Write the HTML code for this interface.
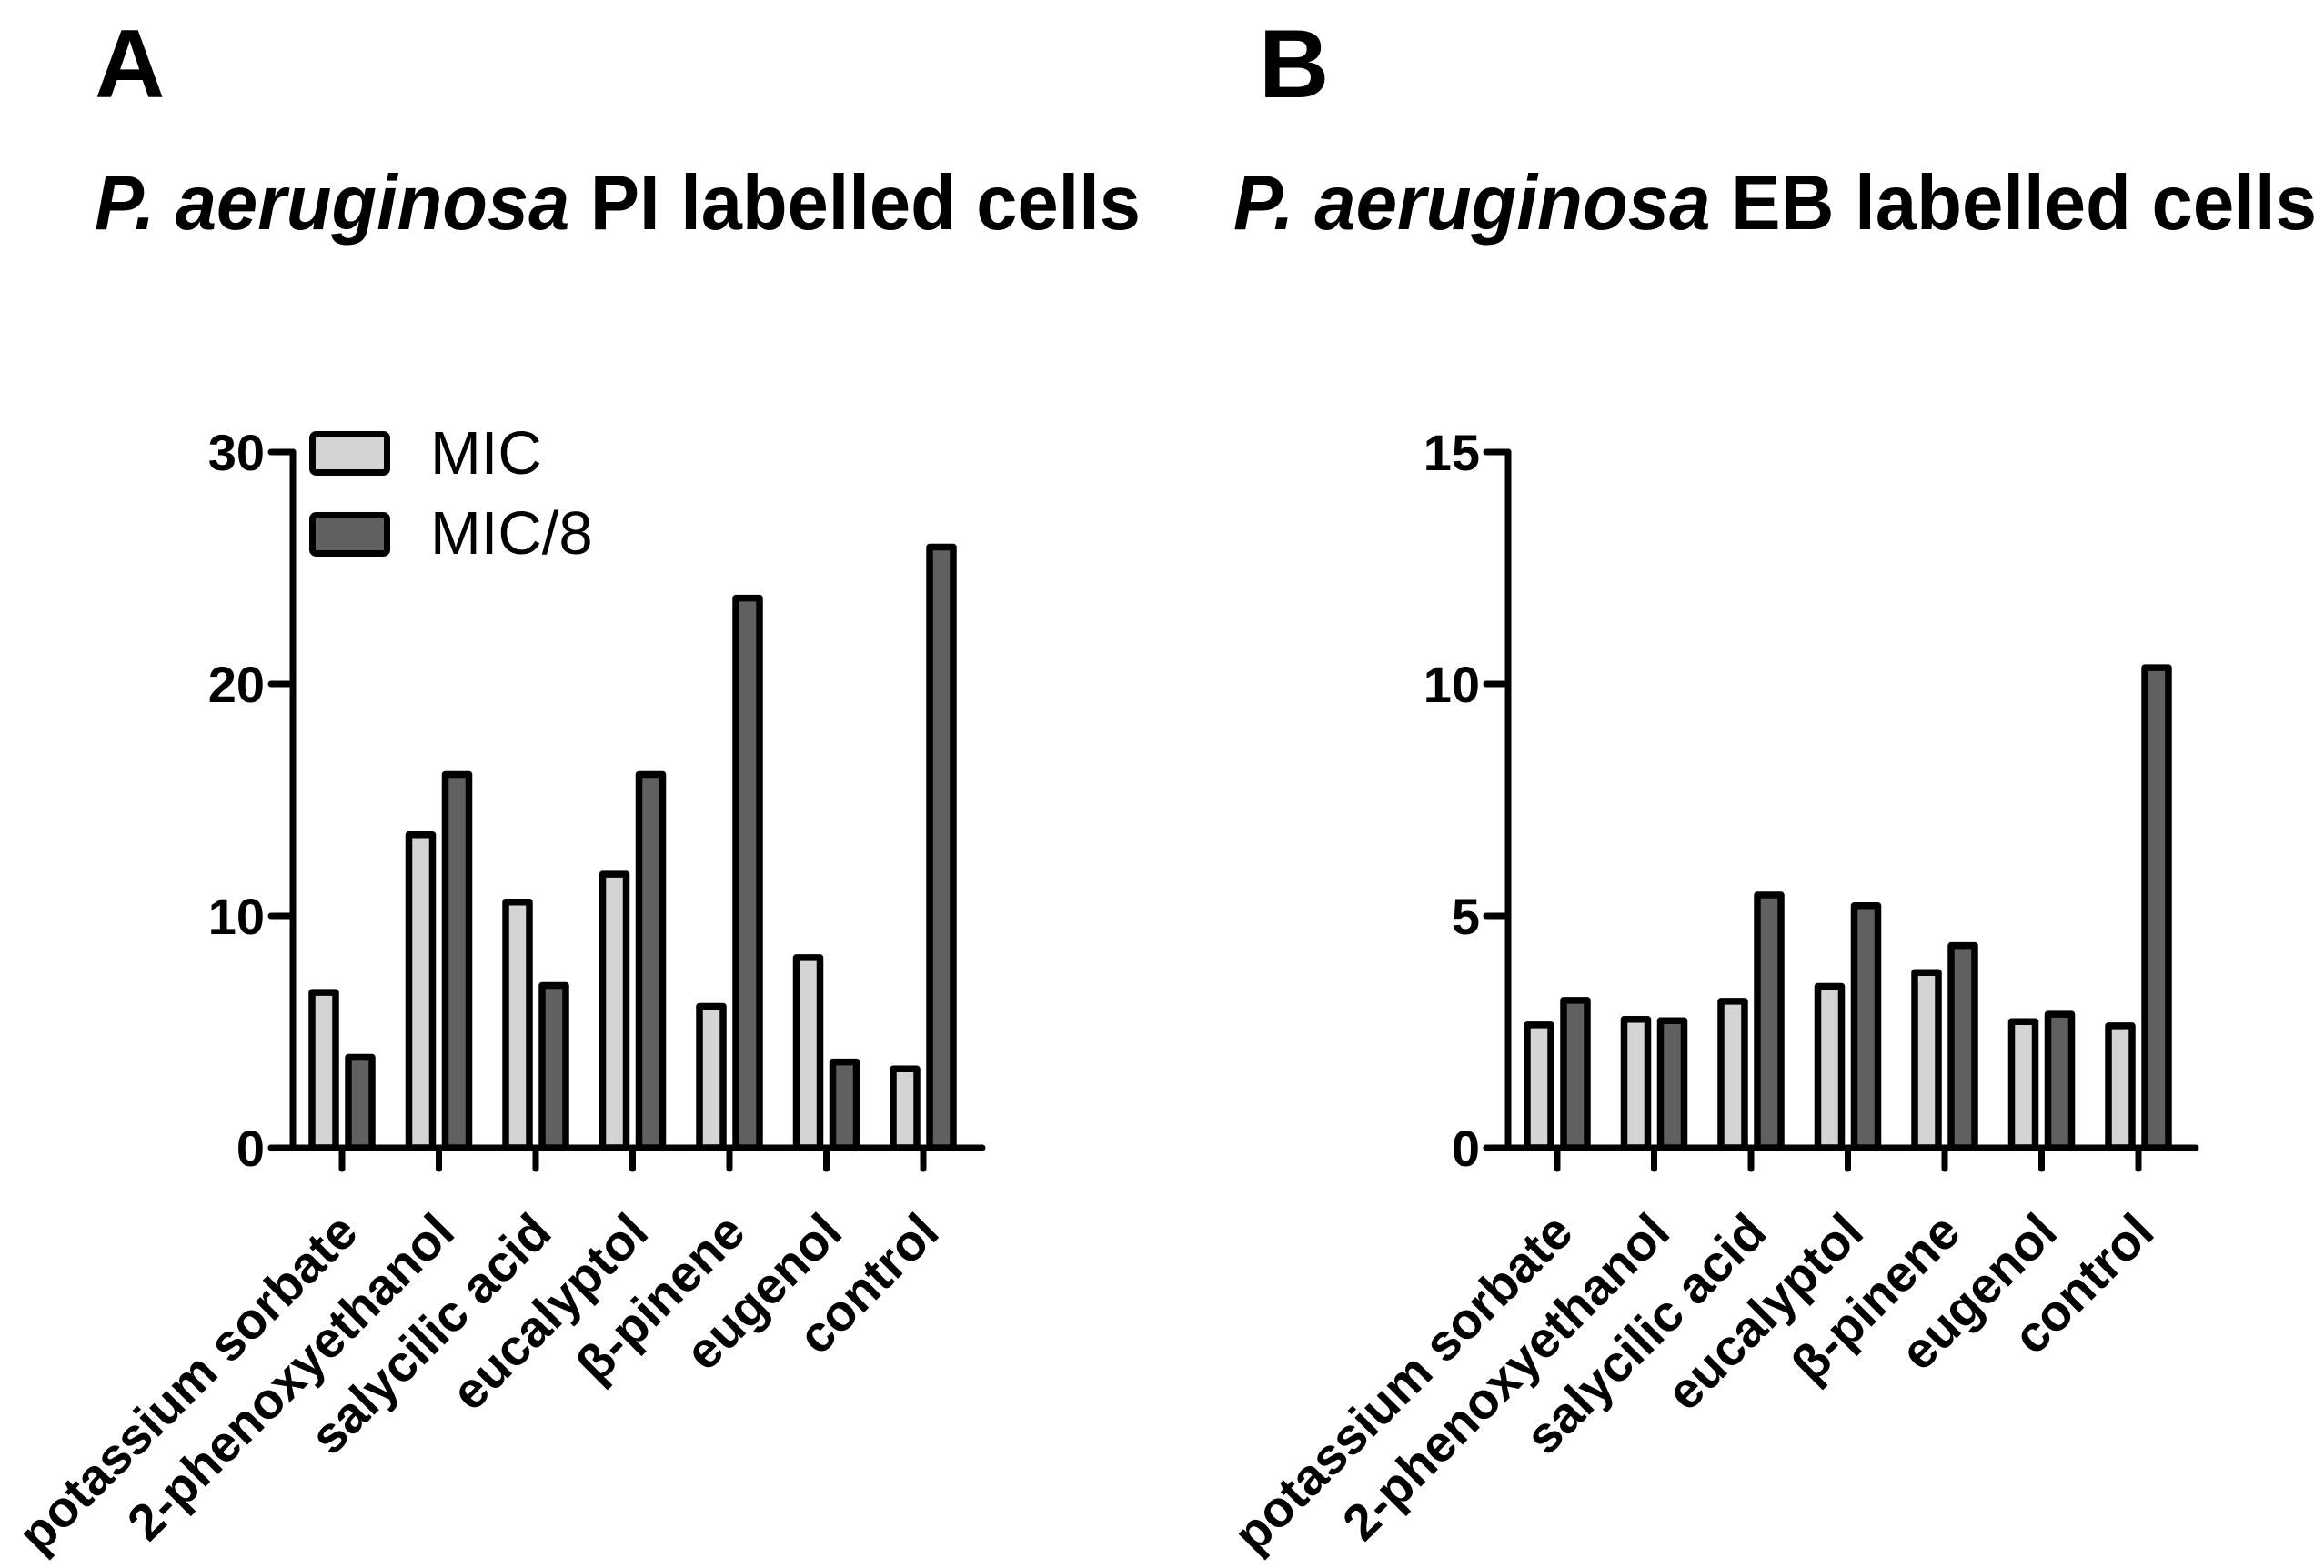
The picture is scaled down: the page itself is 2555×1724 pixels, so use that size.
<!DOCTYPE html>
<html><head><meta charset="utf-8"><style>
html,body{margin:0;padding:0;background:#fff;}
svg{display:block;font-family:"Liberation Sans",Arial,sans-serif;}
</style></head><body>
<svg id="fig" width="2555" height="1724" viewBox="0 0 2555 1724" xmlns="http://www.w3.org/2000/svg">
<text x="104" y="107" font-size="107" font-weight="bold">A</text>
<text x="1384" y="107" font-size="107" font-weight="bold">B</text>
<text x="104" y="252" font-size="85" font-weight="bold" textLength="1150" lengthAdjust="spacingAndGlyphs"><tspan font-style="italic">P. aeruginosa</tspan> PI labelled cells</text>
<text x="1356" y="252" font-size="85" font-weight="bold" textLength="1191" lengthAdjust="spacingAndGlyphs"><tspan font-style="italic">P. aeruginosa</tspan> EB labelled cells</text>
<g id="legend">
<rect x="343.5" y="477.5" width="82" height="42" rx="4" fill="#d4d4d4" stroke="#000" stroke-width="7"/>
<text x="473" y="521" font-size="67">MIC</text>
<rect x="343.5" y="566.5" width="82" height="42" rx="4" fill="#606060" stroke="#000" stroke-width="7"/>
<text x="473" y="609" font-size="67">MIC/8</text>
</g>
</svg>
<script>
const categories = ["potassium sorbate","2-phenoxyethanol","salycilic acid","eucalyptol","\u03B2-pinene","eugenol","control"];
const micA = [6.7, 13.5, 10.6, 11.8, 6.1, 8.2, 3.4];
const mic8A = [3.9, 16.1, 7.0, 16.1, 23.7, 3.7, 25.9];
const ticksA = [0, 10, 20, 30];
const micB = [2.65, 2.77, 3.16, 3.48, 3.78, 2.72, 2.63];
const mic8B = [3.18, 2.74, 5.45, 5.22, 4.36, 2.88, 10.35];
const ticksB = [0, 5, 10, 15];

const NS = "http://www.w3.org/2000/svg";
const svg = document.getElementById("fig");
function mk(tag, attrs, parent) {
  const e = document.createElementNS(NS, tag);
  for (const k in attrs) e.setAttribute(k, attrs[k]);
  (parent || svg).appendChild(e);
  return e;
}
function panel(id, axisX, yMax, ticks, mic, mic8, xEnd) {
  const y0 = 1262, yTop = 497;
  const ys = v => y0 - (v / yMax) * (y0 - yTop);
  const xs = i => axisX + 54 + i * 106.5;
  const g = mk("g", {});
  
  
  mic.forEach((v, i) => {
    const r = mk("rect", {x: xs(i) - 20 - 13, y: ys(v), width: 26, height: y0 - ys(v), fill: "#d4d4d4", stroke: "#000", "stroke-width": 7.5, "stroke-linejoin": "round"}, g);
    
    
  });
  mic8.forEach((v, i) => {
    const r = mk("rect", {x: xs(i) + 20 - 13, y: ys(v), width: 26, height: y0 - ys(v), fill: "#606060", stroke: "#000", "stroke-width": 7.5, "stroke-linejoin": "round"}, g);
    
    
  });
  const ya = mk("line", {x1: axisX, y1: yTop, x2: axisX, y2: y0, stroke: "#000", "stroke-width": 7, "stroke-linecap": "round"}, g);
  
  
  ticks.forEach(t => {
    const y = ys(t);
    const tl = mk("line", {x1: axisX - 24, y1: y, x2: axisX, y2: y, stroke: "#000", "stroke-width": 7, "stroke-linecap": "round"}, g);
    
    
    const tx = mk("text", {x: axisX - 31, y: y + 20, "font-size": 56, "font-weight": "bold", "text-anchor": "end"}, g);
    tx.textContent = String(t);
    
    
  });
  const xa = mk("line", {x1: axisX - 24, y1: y0, x2: xEnd, y2: y0, stroke: "#000", "stroke-width": 7, "stroke-linecap": "round"}, g);
  
  
  categories.forEach((c, i) => {
    const x = xs(i);
    const tl = mk("line", {x1: x, y1: y0, x2: x, y2: y0 + 23, stroke: "#000", "stroke-width": 7, "stroke-linecap": "round"}, g);
    
    
    const lx = x + 20, ly = y0 + 96;
    const tx = mk("text", {x: lx, y: ly, "font-size": 56, "font-weight": "bold", "text-anchor": "end", transform: "rotate(-45 " + lx + " " + ly + ")"}, g);
    tx.textContent = c;
    
    
  });
}
panel("panel-a", 322, 30, ticksA, micA, mic8A, 1080);
panel("panel-b", 1658, 15, ticksB, micB, mic8B, 2414);
</script>
</body></html>
